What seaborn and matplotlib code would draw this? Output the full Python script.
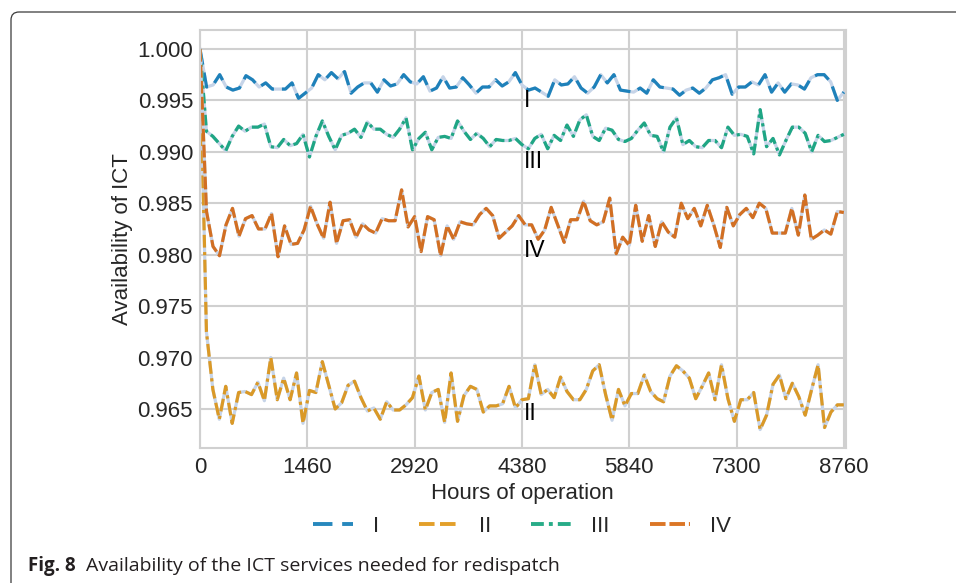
import numpy as np
import matplotlib
matplotlib.use("Agg")
import matplotlib.pyplot as plt
from matplotlib.patches import FancyBboxPatch
import seaborn as sns

# availability values, left to right
avail_I = [1.0000, 0.9963, 0.9965, 0.9975, 0.9963, 0.9960, 0.9962, 0.9974, 0.9970, 0.9963,
           0.9967, 0.9961, 0.9961, 0.9961, 0.9967, 0.9952, 0.9957, 0.9962, 0.9975, 0.9970,
           0.9977, 0.9971, 0.9978, 0.9957, 0.9963, 0.9967, 0.9967, 0.9958, 0.9970, 0.9964,
           0.9966, 0.9975, 0.9968, 0.9966, 0.9973, 0.9959, 0.9962, 0.9973, 0.9962, 0.9963,
           0.9972, 0.9965, 0.9957, 0.9963, 0.9963, 0.9970, 0.9964, 0.9968, 0.9977,
           0.9965, 0.9960, 0.9962, 0.9958, 0.9954, 0.9970, 0.9965, 0.9966, 0.9973, 0.9962,
           0.9957, 0.9963, 0.9975, 0.9967, 0.9975, 0.9960, 0.9959, 0.9958, 0.9962, 0.9957,
           0.9970, 0.9963, 0.9962, 0.9961, 0.9955, 0.9960, 0.9962, 0.9957, 0.9962, 0.9970,
           0.9972, 0.9975, 0.9956, 0.9963, 0.9963, 0.9968, 0.9965, 0.9975, 0.9958, 0.9967,
           0.9958, 0.9966, 0.9965, 0.9961, 0.9972, 0.9975, 0.9975, 0.9968, 0.9950, 0.9958]

avail_II = [1.0000, 0.9725, 0.9669, 0.9640, 0.9672, 0.9636, 0.9666, 0.9667, 0.9664, 0.9676,
            0.9658, 0.9700, 0.9659, 0.9680, 0.9659, 0.9685, 0.9636, 0.9668, 0.9666, 0.9696,
            0.9673, 0.9650, 0.9656, 0.9673, 0.9677, 0.9661, 0.9648, 0.9651, 0.9640, 0.9657,
            0.9649, 0.9649, 0.9654, 0.9661, 0.9682, 0.9649, 0.9666, 0.9669, 0.9637, 0.9685,
            0.9638, 0.9663, 0.9672, 0.9669, 0.9647, 0.9653, 0.9653, 0.9655, 0.9672, 0.9651,
            0.9659,
            0.9660, 0.9693, 0.9664, 0.9669, 0.9661, 0.9681, 0.9667, 0.9659, 0.9659, 0.9669,
            0.9687, 0.9693, 0.9664, 0.9639, 0.9669, 0.9653, 0.9665, 0.9665, 0.9683, 0.9667,
            0.9660, 0.9657, 0.9682, 0.9692, 0.9687, 0.9680, 0.9660, 0.9672, 0.9685, 0.9659,
            0.9693, 0.9660, 0.9638, 0.9659, 0.9659, 0.9666, 0.9630, 0.9644, 0.9674, 0.9683,
            0.9660, 0.9675, 0.9662, 0.9644, 0.9669, 0.9693, 0.9632, 0.9647, 0.9654, 0.9654]

avail_III = [1.0000, 0.9920, 0.9915, 0.9908, 0.9901, 0.9915, 0.9925, 0.9920, 0.9924, 0.9924,
             0.9927, 0.9905, 0.9904, 0.9912, 0.9906, 0.9908, 0.9917, 0.9895, 0.9915, 0.9930,
             0.9915, 0.9902, 0.9916, 0.9918, 0.9922, 0.9914, 0.9929, 0.9922, 0.9922, 0.9917,
             0.9914, 0.9922, 0.9933, 0.9902, 0.9913, 0.9919, 0.9902, 0.9914, 0.9915, 0.9913,
             0.9930, 0.9920, 0.9912, 0.9918, 0.9913, 0.9905, 0.9912, 0.9911, 0.9911, 0.9913,
             0.9907,
             0.9903, 0.9913, 0.9917, 0.9903, 0.9916, 0.9911, 0.9926, 0.9915, 0.9931, 0.9936,
             0.9915, 0.9911, 0.9923, 0.9921, 0.9912, 0.9910, 0.9913, 0.9921, 0.9928, 0.9916,
             0.9915, 0.9900, 0.9924, 0.9933, 0.9907, 0.9911, 0.9905, 0.9904, 0.9911, 0.9911,
             0.9904, 0.9924, 0.9916, 0.9917, 0.9915, 0.9898, 0.9941, 0.9905, 0.9913, 0.9897,
             0.9911, 0.9924, 0.9924, 0.9918, 0.9900, 0.9916, 0.9910, 0.9911, 0.9914, 0.9917]

avail_IV = [1.0000, 0.9842, 0.9808, 0.9799, 0.9829, 0.9845, 0.9818, 0.9835, 0.9838, 0.9825,
            0.9825, 0.9840, 0.9798, 0.9828, 0.9810, 0.9811, 0.9824, 0.9847, 0.9830, 0.9816,
            0.9851, 0.9811, 0.9833, 0.9834, 0.9817, 0.9830, 0.9824, 0.9821, 0.9835, 0.9833,
            0.9833, 0.9863, 0.9827, 0.9837, 0.9803, 0.9837, 0.9834, 0.9799, 0.9828, 0.9815,
            0.9832, 0.9830, 0.9829, 0.9839, 0.9845, 0.9838, 0.9816, 0.9822, 0.9828, 0.9838,
            0.9829,
            0.9829, 0.9815, 0.9824, 0.9846, 0.9829, 0.9812, 0.9834, 0.9834, 0.9852, 0.9833,
            0.9829, 0.9832, 0.9855, 0.9801, 0.9817, 0.9809, 0.9848, 0.9813, 0.9838, 0.9808,
            0.9832, 0.9822, 0.9817, 0.9850, 0.9835, 0.9845, 0.9828, 0.9848, 0.9829, 0.9807,
            0.9846, 0.9828, 0.9839, 0.9845, 0.9836, 0.9850, 0.9845, 0.9821, 0.9821, 0.9821,
            0.9845, 0.9819, 0.9858, 0.9815, 0.9819, 0.9824, 0.9820, 0.9842, 0.9841]

labels = ["I", "II", "III", "IV"]
# where the roman numerals sit inside the plot
label_y = [0.9950, 0.9646, 0.9891, 0.9804]
xticks = [0, 1460, 2920, 4380, 5840, 7300, 8760]
yticks = [0.965, 0.970, 0.975, 0.980, 0.985, 0.990, 0.995, 1.000]

sns.set_theme(style="whitegrid")
plt.rcParams["font.family"] = ["Liberation Sans", "DejaVu Sans"]

colors = ["#0173b2", "#de8f05", "#029e73", "#d55e00"]
dashes = [(5, 2.5), (4, 1.4, 4, 1.4, 1, 1.4), (3.3, 1.3, 1, 1.3), (4, 1)]
series = [avail_I, avail_II, avail_III, avail_IV]

fig = plt.figure(figsize=(9.56, 5.83), dpi=100)
ax = fig.add_axes([0.2092, 0.2311, 0.6754, 0.7174])

handles = []
for vals, col, ds, lab in zip(series, colors, dashes, labels):
    hrs = np.linspace(0, 8760, len(vals))
    sns.lineplot(x=hrs, y=vals, color="#c6d4e8", lw=2.3, ax=ax)
    sns.lineplot(x=hrs, y=vals, color=col, lw=2.3, alpha=0.85,
                 linestyle=(0, ds), ax=ax)
    handles.append(ax.lines[-1])

for lab, yy in zip(labels, label_y):
    ax.text(4400, yy, lab, fontsize=16.5, color="black", ha="left", va="center")

ax.set_xlim(0, 8785)
ax.set_ylim(0.96118, 1.00184)
ax.set_xticks(xticks)
ax.set_yticks(yticks)
ax.set_yticklabels([f"{t:.3f}" for t in yticks])
ax.tick_params(axis="both", labelsize=16, colors="#262626", length=0)
ax.tick_params(axis="y", pad=5)
ax.tick_params(axis="x", pad=6)
ax.set_xlabel("Hours of operation", fontsize=16, color="#262626", labelpad=4)
ax.set_ylabel("Availability of ICT", fontsize=16, color="#262626", labelpad=3)
ax.grid(True, color="#d0d0d0", lw=1.5)
for sp in ax.spines.values():
    sp.set_color("#d0d0d0")
    sp.set_linewidth(1.5)

leg = fig.legend(handles, labels, loc="center", bbox_to_anchor=(0.546, 0.097), ncol=4,
                 frameon=False, fontsize=16, handlelength=1.8, handletextpad=0.9,
                 columnspacing=1.8)
for ln in leg.get_lines():
    ln.set_linewidth(2.8)

# page frame and caption
fig.patches.append(FancyBboxPatch((0.11, -0.5), 12, 6.21,
                                  boxstyle="round,pad=0,rounding_size=0.08",
                                  transform=fig.dpi_scale_trans, fill=False,
                                  ec="#3a3a3a", lw=0.9, clip_on=False))
fig.text(0.029, 0.030, "Fig. 8", fontsize=13.5, fontweight="bold",
         family="Open Sans", color="#231f20", va="center")
fig.text(0.090, 0.030, "Availability of the ICT services needed for redispatch",
         fontsize=14, family="Open Sans", color="#231f20", va="center")

fig.savefig("out.png", dpi=100)
